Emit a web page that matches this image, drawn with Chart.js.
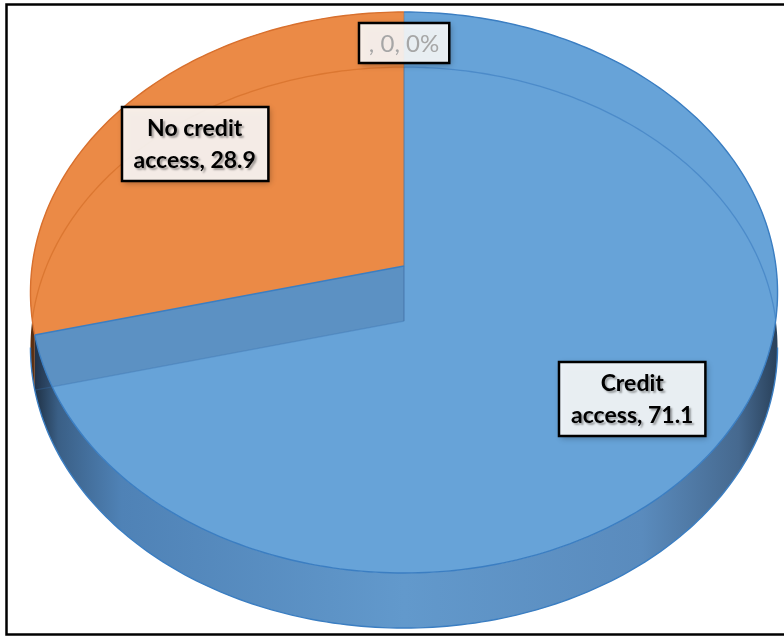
<!DOCTYPE html>
<html>
<head>
<meta charset="utf-8">
<script src="https://cdn.jsdelivr.net/npm/chart.js@4.4.1/dist/chart.umd.min.js"></script>
<style>
  html, body { margin: 0; padding: 0; background: #ffffff; }
  #wrap { width: 784px; height: 637px; position: relative; }
</style>
</head>
<body>
<div id="wrap"><canvas id="c" width="784" height="637"></canvas></div>
<script>
// Survey result: share of respondents with and without access to credit
const categories = ['Credit access', 'No credit access', ''];
const values = [71.1, 28.9, 0];

// Slice styling (top face, outer wall shades, edge lines)
const topColors  = ['#67a3d8', '#eb8a46', '#a5a5a5'];
const wallStops  = [
  [[0, '#1c2c3e'], [0.035, '#3a5f86'], [0.12, '#4f82b6'], [0.5, '#6299cc'], [0.82, '#5a8bbd'], [0.95, '#46698f'], [1, '#2a425c']],
  [[0, '#5a2e10'], [0.05, '#b8612a'], [0.5, '#d9773a'], [1, '#7a3f16']],
  [[0, '#555'], [1, '#888']]
];
const edgeColors   = ['#3b7ec2', '#d8702e', '#8a8a8a'];
const hiddenColors = ['rgba(45,110,185,0.45)', 'rgba(200,95,25,0.45)', 'rgba(0,0,0,0.2)'];

// Perspective of the tilted disc, relative to the pie radius
const STRETCH_X = 1.398;
const STRETCH_Y = 1.045;
const PERSPECTIVE = -0.0945;
const THICKNESS = 0.207;

function formatValue(v) { return String(v); }

const pie3d = {
  id: 'pie3d',
  geometry(chart) {
    const arcs = chart.getDatasetMeta(0).data;
    const R = arcs[0].outerRadius;
    const cx = arcs[0].x, cy = arcs[0].y;
    const A = R * STRETCH_X, B = R * STRETCH_Y, H = R * THICKNESS;
    const proj = (ang, r, dy) => {
      const u = r * Math.cos(ang), v = r * Math.sin(ang);
      const d = 1 + PERSPECTIVE * v;
      return [cx + A * u / d, cy + B * v / d + (dy || 0)];
    };
    return { arcs, R, cx, cy, A, B, H, proj };
  },
  arcPath(ctx, g, a0, a1, r, dy, first) {
    const n = Math.max(2, Math.ceil(Math.abs(a1 - a0) / (Math.PI * 2) * 360));
    for (let i = 0; i <= n; i++) {
      const p = g.proj(a0 + (a1 - a0) * i / n, r, dy);
      if (i === 0 && first) ctx.moveTo(p[0], p[1]); else ctx.lineTo(p[0], p[1]);
    }
  },
  beforeDatasetsDraw(chart) {
    const ctx = chart.ctx;
    const g = this.geometry(chart);
    const { arcs, H, cx, cy, A } = g;
    const slices = arcs.map((a, i) => ({ i, a0: a.startAngle, a1: a.endAngle }))
                       .filter(s => s.a1 - s.a0 > 1e-6);

    ctx.save();
    // outer walls
    slices.forEach(s => {
      const grad = ctx.createLinearGradient(cx - A, 0, cx + A, 0);
      wallStops[s.i].forEach(st => grad.addColorStop(st[0], st[1]));
      ctx.beginPath();
      this.arcPath(ctx, g, s.a0, s.a1, 1, 0, true);
      this.arcPath(ctx, g, s.a1, s.a0, 1, H, false);
      ctx.closePath();
      ctx.fillStyle = grad;
      ctx.fill();
    });

    // visible bottom rim of the wall
    const aR = Math.asin(-PERSPECTIVE), aL = Math.PI - aR;
    ctx.beginPath();
    this.arcPath(ctx, g, aR, aL, 1, H, true);
    ctx.strokeStyle = edgeColors[0];
    ctx.lineWidth = 1.4;
    ctx.stroke();

    // top faces
    slices.forEach(s => {
      ctx.beginPath();
      ctx.moveTo(cx, cy);
      this.arcPath(ctx, g, s.a0, s.a1, 1, 0, false);
      ctx.closePath();
      ctx.fillStyle = topColors[s.i];
      ctx.fill();
    });

    // cut faces seen through the translucent top
    const bounds = slices.map(s => s.a1);
    bounds.forEach(b => {
      const p = g.proj(b, 1, 0), q = g.proj(b, 1, H);
      ctx.beginPath();
      ctx.moveTo(cx, cy); ctx.lineTo(p[0], p[1]); ctx.lineTo(q[0], q[1]); ctx.lineTo(cx, cy + H);
      ctx.closePath();
      ctx.fillStyle = 'rgba(40,60,95,0.17)';
      ctx.fill();
      ctx.beginPath();
      ctx.moveTo(cx, cy + H); ctx.lineTo(q[0], q[1]);
      ctx.strokeStyle = 'rgba(55,110,170,0.35)';
      ctx.lineWidth = 1.2;
      ctx.stroke();
    });
    ctx.beginPath();
    ctx.moveTo(cx, cy); ctx.lineTo(cx, cy + H);
    ctx.strokeStyle = 'rgba(70,110,160,0.45)';
    ctx.lineWidth = 1;
    ctx.stroke();

    // hidden bottom rim, faintly visible through each top face
    slices.forEach(s => {
      ctx.save();
      ctx.beginPath();
      ctx.moveTo(cx, cy);
      this.arcPath(ctx, g, s.a0, s.a1, 1, 0, false);
      ctx.closePath();
      ctx.clip();
      ctx.beginPath();
      this.arcPath(ctx, g, aL, aR + Math.PI * 2, 1, H, true);
      ctx.strokeStyle = hiddenColors[s.i];
      ctx.lineWidth = 1.3;
      ctx.stroke();
      ctx.restore();
    });

    // top outline and radial edges
    slices.forEach(s => {
      ctx.beginPath();
      this.arcPath(ctx, g, s.a0, s.a1, 1, 0, true);
      ctx.strokeStyle = edgeColors[s.i];
      ctx.lineWidth = 1.4;
      ctx.stroke();
    });
    bounds.forEach(b => {
      const p = g.proj(b, 1, 0);
      const vertical = Math.abs(p[0] - cx) < 1;
      ctx.beginPath();
      ctx.moveTo(cx, cy); ctx.lineTo(p[0], p[1]);
      ctx.strokeStyle = vertical ? 'rgba(110,120,140,0.55)' : edgeColors[0];
      ctx.lineWidth = vertical ? 1 : 1.5;
      ctx.stroke();
    });
    ctx.restore();
    return false;
  },
  afterDraw(chart) {
    const ctx = chart.ctx;
    const g = this.geometry(chart);
    const total = values.reduce((s, v) => s + v, 0);

    // chart frame
    ctx.save();
    ctx.strokeStyle = '#000';
    ctx.lineWidth = 2.5;
    ctx.strokeRect(6.5, 4.5, 800, 630);
    ctx.restore();

    g.arcs.forEach((arc, i) => {
      const v = values[i];
      const name = categories[i];
      let lines, font, color, radius, lineH;
      if (v === 0) {
        const pct = Math.round(v / total * 100);
        lines = [name + ', ' + formatValue(v) + ', ' + pct + '%'];
        font = '400 24px Lato';
        color = '#a6a6a6';
        radius = 0.87;
        lineH = 30;
      } else {
        const cut = name.lastIndexOf(' ');
        lines = [name.slice(0, cut), name.slice(cut + 1) + ', ' + formatValue(v)];
        font = '700 23px Lato';
        color = '#000';
        radius = 0.745;
        lineH = 32;
      }
      const mid = (arc.startAngle + arc.endAngle) / 2;
      const [x, y] = g.proj(mid, radius, 0);
      ctx.save();
      ctx.font = font;
      const w = Math.max(...lines.map(l => ctx.measureText(l).width)) + (v === 0 ? 20 : 24);
      const h = lines.length * lineH + (v === 0 ? 10 : 10);
      const bx = Math.round(x - w / 2), by = Math.round(y - h / 2);
      ctx.shadowColor = 'rgba(0,0,0,0.35)';
      ctx.shadowBlur = 6;
      ctx.shadowOffsetX = 2;
      ctx.shadowOffsetY = 2;
      ctx.fillStyle = 'rgba(255,255,255,0.88)';
      ctx.fillRect(bx, by, w, h);
      ctx.shadowColor = 'transparent';
      ctx.strokeStyle = '#000';
      ctx.lineWidth = 2.5;
      ctx.strokeRect(bx, by, w, h);
      ctx.fillStyle = color;
      ctx.textAlign = 'center';
      ctx.textBaseline = 'middle';
      if (v !== 0) {
        ctx.shadowColor = 'rgba(0,0,0,0.35)';
        ctx.shadowBlur = 2;
      }
      lines.forEach((l, k) => {
        ctx.fillText(l, x, by + h / 2 + (k - (lines.length - 1) / 2) * lineH + 1);
      });
      ctx.restore();
    });
  }
};

new Chart(document.getElementById('c'), {
  type: 'pie',
  data: {
    labels: categories,
    datasets: [{ data: values, backgroundColor: topColors, borderWidth: 0 }]
  },
  options: {
    responsive: false,
    animation: false,
    devicePixelRatio: 1,
    layout: { padding: { left: 32, right: 8, top: 0, bottom: 105 } },
    plugins: { legend: { display: false }, tooltip: { enabled: false } }
  },
  plugins: [pie3d]
});
</script>
</body>
</html>
